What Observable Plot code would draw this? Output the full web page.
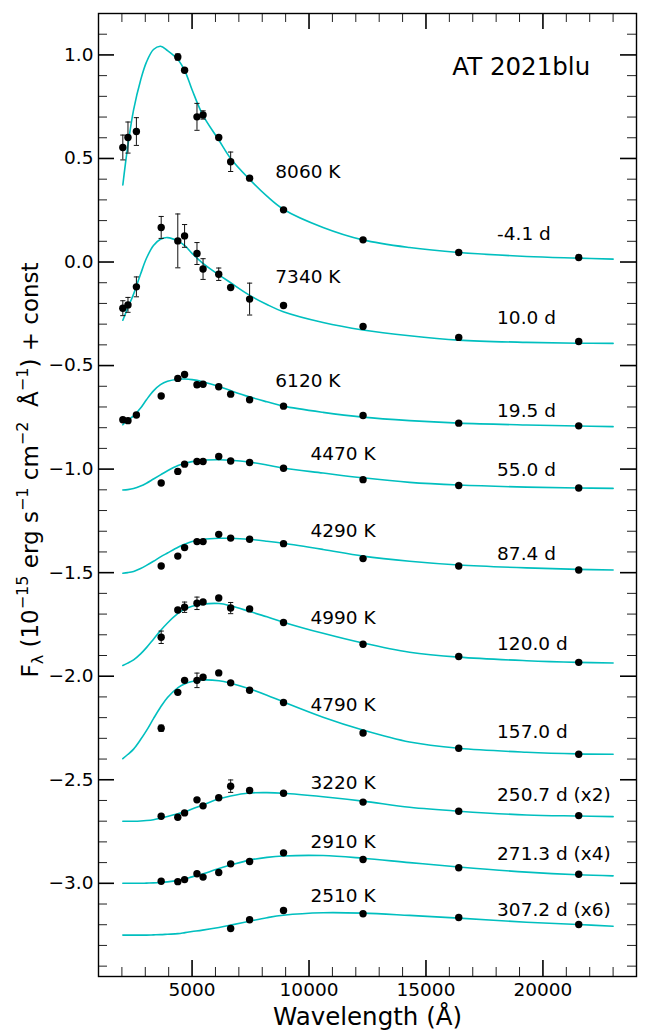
<!DOCTYPE html>
<html><head><meta charset="utf-8">
<script src="https://cdn.jsdelivr.net/npm/d3@7"></script>
<script src="https://cdn.jsdelivr.net/npm/@observablehq/plot@0.6"></script>
<style>
html,body{margin:0;padding:0;background:#fff;}
#chart{width:645px;height:1030px;}
</style></head><body><div id="chart"></div>
<script>
// ---------------- data ----------------
const wavelengths = [2040, 2260, 2620, 3680, 4390, 4680, 5210, 5470, 6140, 6650, 7460, 8910, 12310, 16400, 21530];

const phases = ["-4.1 d", "10.0 d", "19.5 d", "55.0 d", "87.4 d", "120.0 d", "157.0 d", "250.7 d (x2)", "271.3 d (x4)", "307.2 d (x6)"];
const temps = ["8060 K", "7340 K", "6120 K", "4470 K", "4290 K", "4990 K", "4790 K", "3220 K", "2910 K", "2510 K"];

const flux1  = [0.553, 0.601, 0.630, null, 0.990, 0.926, 0.701, 0.710, 0.601, 0.484, 0.405, 0.252, 0.107, 0.046, 0.022];
const flux2  = [-0.223, -0.207, -0.120, 0.167, 0.102, 0.126, 0.041, -0.034, -0.059, -0.123, -0.179, -0.210, -0.311, -0.364, -0.384];
const flux3  = [-0.762, -0.766, -0.739, -0.647, -0.562, -0.543, -0.593, -0.590, -0.602, -0.638, -0.665, -0.696, -0.741, -0.778, -0.791];
const flux4  = [null, null, null, -1.067, -1.011, -0.976, -0.963, -0.963, -0.939, -0.961, -0.968, -0.996, -1.051, -1.079, -1.091];
const flux5  = [null, null, null, -1.468, -1.420, -1.379, -1.350, -1.350, -1.315, -1.333, -1.339, -1.360, -1.432, -1.468, -1.487];
const flux6  = [null, null, null, -1.812, -1.680, -1.667, -1.648, -1.642, -1.622, -1.671, -1.675, -1.741, -1.846, -1.905, -1.933];
const flux7  = [null, null, null, -2.251, -2.078, -2.020, -2.020, -2.005, -1.984, -2.032, -2.068, -2.127, -2.274, -2.348, -2.377];
const flux8  = [null, null, null, -2.676, -2.681, -2.660, -2.597, -2.626, -2.587, -2.531, -2.552, -2.565, -2.608, -2.652, -2.673];
const flux9  = [null, null, null, -2.990, -2.992, -2.982, -2.954, -2.970, -2.948, -2.906, -2.895, -2.853, -2.885, -2.925, -2.956];
const flux10 = [null, null, null, null, null, null, null, null, null, -3.218, -3.176, -3.131, -3.147, -3.165, -3.199];

const err1  = [0.060, 0.075, 0.067, 0, 0.015, 0, 0.065, 0.020, 0, 0.047, 0, 0, 0, 0, 0];
const err2  = [0.036, 0.036, 0.048, 0.053, 0.130, 0.055, 0.053, 0.050, 0.030, 0, 0.077, 0, 0, 0, 0];
const err3  = [0, 0, 0, 0, 0, 0, 0.012, 0, 0, 0, 0, 0, 0, 0, 0];
const err4  = [0, 0, 0, 0, 0, 0, 0, 0, 0, 0, 0, 0, 0, 0, 0];
const err5  = [0, 0, 0, 0, 0, 0, 0, 0, 0, 0, 0, 0, 0, 0, 0];
const err6  = [0, 0, 0, 0.030, 0, 0.025, 0.030, 0, 0, 0.027, 0, 0, 0, 0, 0];
const err7  = [0, 0, 0, 0.015, 0, 0, 0.035, 0, 0, 0, 0, 0, 0, 0, 0];
const err8  = [0, 0, 0, 0, 0, 0, 0, 0, 0, 0.030, 0, 0, 0, 0, 0];
const err9  = [0, 0, 0, 0, 0, 0, 0, 0, 0, 0, 0, 0, 0, 0, 0];
const err10 = [0, 0, 0, 0, 0, 0, 0, 0, 0, 0, 0, 0, 0, 0, 0];

// blackbody fit curves
const fitWavelengths = [2040, 2250, 2500, 2800, 3050, 3350, 3650, 3950, 4400, 4700, 5000, 5450, 6150, 6650, 7450, 8200, 8900, 10600, 12300, 14300, 16400, 19300, 21500, 23000];
const fit1  = [0.372, 0.558, 0.735, 0.878, 0.965, 1.026, 1.042, 1.021, 0.977, 0.921, 0.832, 0.712, 0.588, 0.500, 0.400, 0.318, 0.255, 0.167, 0.107, 0.070, 0.046, 0.027, 0.019, 0.014];
const fit2  = [-0.281, -0.222, -0.155, -0.058, 0.018, 0.080, 0.110, 0.118, 0.101, 0.078, 0.042, -0.005, -0.062, -0.100, -0.160, -0.205, -0.240, -0.292, -0.328, -0.356, -0.377, -0.388, -0.392, -0.393];
const fit3  = [-0.786, -0.764, -0.743, -0.705, -0.665, -0.622, -0.592, -0.576, -0.566, -0.565, -0.568, -0.578, -0.601, -0.621, -0.651, -0.675, -0.696, -0.726, -0.749, -0.766, -0.778, -0.787, -0.792, -0.795];
const fit4  = [-1.101, -1.099, -1.094, -1.082, -1.068, -1.048, -1.028, -1.008, -0.983, -0.972, -0.964, -0.957, -0.955, -0.957, -0.966, -0.980, -0.995, -1.019, -1.042, -1.064, -1.077, -1.087, -1.091, -1.093];
const fit5  = [-1.503, -1.500, -1.494, -1.480, -1.465, -1.445, -1.424, -1.405, -1.377, -1.362, -1.350, -1.340, -1.334, -1.334, -1.339, -1.348, -1.358, -1.388, -1.420, -1.445, -1.463, -1.477, -1.484, -1.487];
const fit6  = [-1.948, -1.937, -1.921, -1.892, -1.862, -1.821, -1.780, -1.743, -1.697, -1.676, -1.662, -1.652, -1.649, -1.660, -1.687, -1.713, -1.739, -1.793, -1.840, -1.884, -1.908, -1.925, -1.933, -1.936];
const fit7  = [-2.398, -2.378, -2.352, -2.306, -2.263, -2.205, -2.150, -2.103, -2.055, -2.036, -2.026, -2.018, -2.022, -2.034, -2.061, -2.092, -2.124, -2.198, -2.260, -2.318, -2.348, -2.367, -2.375, -2.377];
const fit8  = [-2.700, -2.700, -2.700, -2.699, -2.697, -2.693, -2.686, -2.677, -2.664, -2.655, -2.641, -2.622, -2.592, -2.578, -2.564, -2.562, -2.565, -2.582, -2.603, -2.633, -2.652, -2.670, -2.675, -2.678];
const fit9  = [-3.000, -3.000, -3.000, -3.000, -2.999, -2.998, -2.996, -2.993, -2.986, -2.979, -2.969, -2.955, -2.928, -2.912, -2.888, -2.875, -2.868, -2.866, -2.879, -2.900, -2.921, -2.946, -2.959, -2.964];
const fit10 = [-3.250, -3.250, -3.250, -3.250, -3.250, -3.249, -3.248, -3.246, -3.243, -3.238, -3.233, -3.226, -3.213, -3.202, -3.183, -3.166, -3.154, -3.142, -3.144, -3.155, -3.168, -3.188, -3.199, -3.207];

// annotation anchors (data units)
const tempLabelX = [8560, 8560, 8560, 10065, 10065, 10065, 10065, 10065, 10065, 10065];
const tempLabelY = [0.432, -0.071, -0.573, -0.927, -1.297, -1.719, -2.139, -2.517, -2.802, -3.064];
const phaseLabelX = 18040;
const phaseLabelY = [0.135, -0.271, -0.718, -1.004, -1.410, -1.847, -2.271, -2.573, -2.861, -3.131];
const titleText = "AT 2021blu";

// ticks
const xMajor = [5000, 10000, 15000, 20000];
const xMinor = [2000, 3000, 4000, 6000, 7000, 8000, 9000, 11000, 12000, 13000, 14000, 16000, 17000, 18000, 19000, 21000, 22000, 23000];
const yMajor = [-3.0, -2.5, -2.0, -1.5, -1.0, -0.5, 0.0, 0.5, 1.0];
const yMinor = [-3.4, -3.3, -3.2, -3.1, -2.9, -2.8, -2.7, -2.6, -2.4, -2.3, -2.2, -2.1, -1.9, -1.8, -1.7, -1.6, -1.4, -1.3, -1.2, -1.1, -0.9, -0.8, -0.7, -0.6, -0.4, -0.3, -0.2, -0.1, 0.1, 0.2, 0.3, 0.4, 0.6, 0.7, 0.8, 0.9, 1.1];

// ---------------- build tables ----------------
const fluxes = [flux1, flux2, flux3, flux4, flux5, flux6, flux7, flux8, flux9, flux10];
const errs = [err1, err2, err3, err4, err5, err6, err7, err8, err9, err10];
const fits = [fit1, fit2, fit3, fit4, fit5, fit6, fit7, fit8, fit9, fit10];

const points = [];
fluxes.forEach((fl, i) => fl.forEach((v, j) => {
  if (v != null) points.push({epoch: i, lambda: wavelengths[j], flux: v, err: errs[i][j]});
}));
const errPoints = points.filter(d => d.err > 0);
const fitRows = [];
fits.forEach((f, i) => f.forEach((v, j) => fitRows.push({epoch: i, lambda: fitWavelengths[j], flux: v})));
const tempRows = temps.map((t, i) => ({text: t, x: tempLabelX[i], y: tempLabelY[i]}));
const phaseRows = phases.map((t, i) => ({text: t, x: phaseLabelX, y: phaseLabelY[i]}));

// ---------------- plot ----------------
const W = 645, H = 1030, mL = 98, mR = 9, mT = 13, mB = 54;
const pw = W - mL - mR, ph = H - mT - mB;
const MAJ = 16, MIN = 9;

const capSymbol = {draw(ctx, size) { const r = Math.sqrt(size / Math.PI); ctx.moveTo(-r, 0); ctx.lineTo(r, 0); }};
const fmtY = d => d.toFixed(1).replace("-", "\u2212");

const svg = Plot.plot({
  width: W, height: H,
  marginLeft: mL, marginRight: mR, marginTop: mT, marginBottom: mB,
  x: {domain: [1000, 24000]},
  y: {domain: [-3.45, 1.2]},
  style: {fontFamily: "DejaVu Sans", fontSize: "18.5px", color: "black", background: "white"},
  marks: [
    // ticks inward on all four sides
    Plot.tickX(xMajor, {x: d => d, insetTop: ph - MAJ, stroke: "black", strokeWidth: 1.6}),
    Plot.tickX(xMajor, {x: d => d, insetBottom: ph - MAJ, stroke: "black", strokeWidth: 1.6}),
    Plot.tickX(xMinor, {x: d => d, insetTop: ph - MIN, stroke: "#222", strokeWidth: 1}),
    Plot.tickX(xMinor, {x: d => d, insetBottom: ph - MIN, stroke: "#222", strokeWidth: 1}),
    Plot.tickY(yMajor, {y: d => d, insetRight: pw - MAJ, stroke: "black", strokeWidth: 1.6}),
    Plot.tickY(yMajor, {y: d => d, insetLeft: pw - MAJ, stroke: "black", strokeWidth: 1.6}),
    Plot.tickY(yMinor, {y: d => d, insetRight: pw - MIN, stroke: "#222", strokeWidth: 1}),
    Plot.tickY(yMinor, {y: d => d, insetLeft: pw - MIN, stroke: "#222", strokeWidth: 1}),
    Plot.axisX(xMajor, {tickSize: 0, tickPadding: 6, tickFormat: d => String(d), label: null}),
    Plot.axisY(yMajor, {tickSize: 0, tickPadding: 5, tickFormat: fmtY, label: null}),
    Plot.frame({stroke: "black", strokeWidth: 1.4}),
    // fits
    Plot.line(fitRows, {x: "lambda", y: "flux", z: "epoch", stroke: "#00bfbf", strokeWidth: 1.6, curve: "catmull-rom"}),
    // error bars
    Plot.ruleX(errPoints, {x: "lambda", y1: d => d.flux - d.err, y2: d => d.flux + d.err, stroke: "#111", strokeWidth: 1}),
    Plot.dot(errPoints, {x: "lambda", y: d => d.flux - d.err, symbol: capSymbol, r: 2.6, stroke: "#111", strokeWidth: 1}),
    Plot.dot(errPoints, {x: "lambda", y: d => d.flux + d.err, symbol: capSymbol, r: 2.6, stroke: "#111", strokeWidth: 1}),
    // points
    Plot.dot(points, {x: "lambda", y: "flux", r: 3.7, fill: "black", stroke: "none"}),
    // labels
    Plot.text(tempRows, {x: "x", y: "y", text: "text", textAnchor: "start", fontSize: 18.5, fill: "black"}),
    Plot.text(phaseRows, {x: "x", y: "y", text: "text", textAnchor: "start", fontSize: 18.5, fill: "black"}),
    Plot.text([titleText], {x: () => 22020, y: () => 0.939, text: d => d, textAnchor: "end", fontSize: 24.5, fill: "black"}),
    Plot.text(["Wavelength (\u00C5)"], {frameAnchor: "bottom", lineAnchor: "middle", dy: 41, text: d => d, fontSize: 24.5, fill: "black"})
  ]
});

// y-axis label with sub/superscripts
const yl = d3.select(svg).append("text")
  .attr("transform", "translate(38,470) rotate(-90)")
  .attr("text-anchor", "middle")
  .attr("font-family", "DejaVu Sans")
  .attr("font-size", 23)
  .attr("fill", "black");
const parts = [
  ["F", 0, null], ["\u03BB", 5, 16], [" (10", -5, null], ["\u221215", -10, 16],
  [" erg s", 10, null], ["\u22121", -10, 16], [" cm", 10, null], ["\u22122", -10, 16],
  ["\u00A0 \u00C5", 10, null], ["\u22121", -10, 16], [") + const", 10, null]
];
parts.forEach(([t, dy, fs]) => {
  const ts = yl.append("tspan").attr("dy", dy).text(t);
  if (fs) ts.attr("font-size", fs);
});

document.getElementById("chart").appendChild(svg);
</script></body></html>
